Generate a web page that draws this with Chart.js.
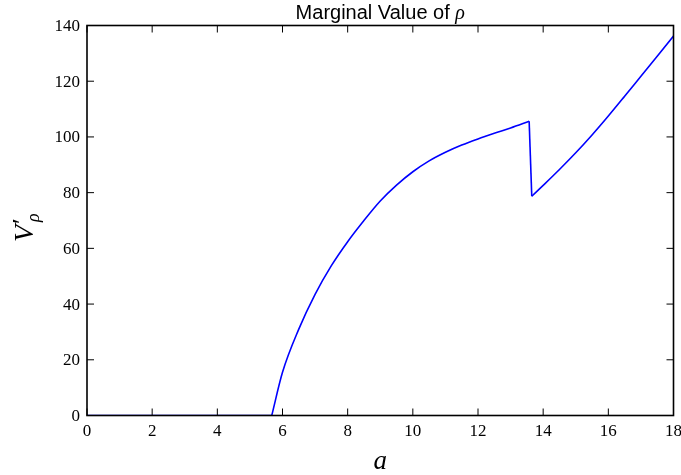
<!DOCTYPE html>
<html>
<head>
<meta charset="utf-8">
<script src="https://cdn.jsdelivr.net/npm/chart.js@4.4.1/dist/chart.umd.min.js"></script>
<style>
  html, body { margin: 0; padding: 0; background: #fff; }
  #wrap { width: 681px; height: 475px; }
</style>
</head>
<body>
<div id="wrap"><canvas id="marginalChart"></canvas></div>
<script>
// values
const aValues = [0, 5.67, 6, 6.5, 7, 7.5, 8, 8.5, 9, 9.5, 10, 10.5, 11, 11.5, 12, 12.5, 13, 13.57,
                 13.65, 14, 14.5, 15, 15.5, 16, 16.5, 17, 17.5, 18];
const vValues = [0, 0, 15.5, 31, 43.5, 53.8, 62.4, 70, 77, 82.7, 87.5, 91.4, 94.5, 97.1, 99.3, 101.3, 103.2, 105.6,
                 78.7, 82.6, 88.3, 94.3, 100.7, 107.5, 114.6, 121.8, 129.0, 136.2];
// indices where the curve has a corner (start of rise, peak, bottom of drop)
const kinks = [1, 17, 18];
const xTicks = [0, 2, 4, 6, 8, 10, 12, 14, 16, 18];
const yTicks = [0, 20, 40, 60, 80, 100, 120, 140];

const serif = "'Liberation Serif', 'DejaVu Serif', serif";

// split the line at its corners so the smoothing keeps them sharp
const cuts = [0, ...kinks, aValues.length - 1];
const pieces = [];
for (let i = 0; i < cuts.length - 1; i++) {
  const pts = [];
  for (let j = cuts[i]; j <= cuts[i + 1]; j++) pts.push({ x: aValues[j], y: vValues[j] });
  pieces.push({
    data: pts,
    borderColor: '#0000ff',
    borderWidth: 1.6,
    pointRadius: 0,
    fill: false,
    cubicInterpolationMode: 'monotone'
  });
}

// matplotlib-like frame, inward ticks and labels
const framePlugin = {
  id: 'frame',
  afterDraw(chart) {
    const { ctx, chartArea: ca, scales } = chart;
    ctx.save();
    ctx.strokeStyle = '#000';
    ctx.fillStyle = '#000';
    ctx.lineWidth = 1;
    ctx.beginPath();
    xTicks.forEach(v => {
      const px = scales.x.getPixelForValue(v);
      ctx.moveTo(px, ca.bottom); ctx.lineTo(px, ca.bottom - 7);
      ctx.moveTo(px, ca.top); ctx.lineTo(px, ca.top + 7);
    });
    yTicks.forEach(v => {
      const py = scales.y.getPixelForValue(v);
      ctx.moveTo(ca.left, py); ctx.lineTo(ca.left + 7, py);
      ctx.moveTo(ca.right, py); ctx.lineTo(ca.right - 7, py);
    });
    ctx.stroke();

    ctx.lineWidth = 1.6;
    ctx.strokeRect(ca.left, ca.top, ca.right - ca.left, ca.bottom - ca.top);

    // tick labels
    ctx.font = '17px ' + serif;
    ctx.textAlign = 'center';
    ctx.textBaseline = 'alphabetic';
    xTicks.forEach(v => ctx.fillText(String(v), scales.x.getPixelForValue(v), ca.bottom + 20));
    ctx.textAlign = 'right';
    yTicks.forEach(v => ctx.fillText(String(v), ca.left - 7, scales.y.getPixelForValue(v) + 5.5));

    // title
    const sans = "20px 'Liberation Sans', Arial, sans-serif";
    const t1 = 'Marginal Value of ';
    ctx.font = sans;
    const w1 = ctx.measureText(t1).width;
    ctx.font = 'italic 20px ' + serif;
    const w2 = ctx.measureText('ρ').width;
    const cx = (ca.left + ca.right) / 2;
    const x0 = cx - (w1 + w2) / 2;
    ctx.textAlign = 'left';
    ctx.font = sans;
    ctx.fillText(t1, x0, 19);
    ctx.font = 'italic 20px ' + serif;
    ctx.fillText('ρ', x0 + w1, 19);

    // x label
    ctx.font = 'italic 27px ' + serif;
    ctx.textAlign = 'center';
    ctx.fillText('a', cx, 469);

    // y label V'_rho, rotated
    ctx.translate(33, 242);
    ctx.rotate(-Math.PI / 2);
    ctx.textAlign = 'left';
    ctx.font = 'italic 28px ' + serif;
    ctx.fillText('V', 0, 0);
    const wv = ctx.measureText('V').width;
    ctx.font = '26px ' + serif;
    ctx.fillText('′', wv + 1, -3);
    ctx.font = 'italic 18px ' + serif;
    ctx.fillText('ρ', wv + 3, 6);
    ctx.restore();
  }
};

const chart = new Chart(document.getElementById('marginalChart'), {
  type: 'line',
  data: { datasets: pieces },
  options: {
    responsive: true,
    maintainAspectRatio: false,
    animation: false,
    layout: { padding: { top: 25.5, right: 7.5, left: 0, bottom: 0 } },
    plugins: { legend: { display: false }, tooltip: { enabled: false } },
    scales: {
      x: {
        type: 'linear',
        min: 0, max: 18,
        afterBuildTicks: s => { s.ticks = xTicks.map(v => ({ value: v })); },
        afterFit: s => { s.height = 59.5; s.paddingLeft = 0; s.paddingRight = 0; },
        grid: { display: false, drawTicks: false },
        border: { display: false },
        ticks: { display: false }
      },
      y: {
        type: 'linear',
        min: 0, max: 140,
        afterBuildTicks: s => { s.ticks = yTicks.map(v => ({ value: v })); },
        afterFit: s => { s.width = 87; s.paddingTop = 0; s.paddingBottom = 0; },
        grid: { display: false, drawTicks: false },
        border: { display: false },
        ticks: { display: false }
      }
    }
  },
  plugins: [framePlugin]
});
</script>
</body>
</html>
